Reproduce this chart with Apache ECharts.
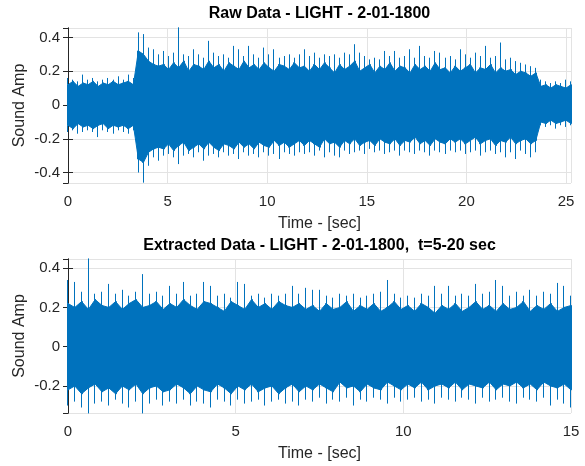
<!DOCTYPE html>
<html>
<head>
<meta charset="utf-8">
<script src="https://cdn.jsdelivr.net/npm/echarts@6/dist/echarts.min.js"></script>
<style>html,body{margin:0;padding:0;background:#fff}#c{width:585px;height:466px}</style>
</head>
<body>
<div id="c"></div>
<script>
// ---- Raw data: 0..25.25 s, envelope read at 101 evenly spaced times ----
const rawSpan = 25.25;
const rawHi = [0.16,0.15,0.14,0.18,0.15,0.16,0.14,0.15,0.16,0.15,0.17,0.15,0.18,0.16,
  0.43,0.42,0.34,0.33,0.30,
  0.32,0.29,0.31,0.46,0.30,0.29,0.33,0.30,0.28,0.38,0.31,0.29,0.30,0.28,0.35,0.33,0.29,0.35,0.30,0.28,0.34,0.30,0.33,0.28,0.29,0.30,0.28,0.30,
  0.33,0.29,0.31,0.28,0.30,0.29,0.30,0.28,0.31,0.30,0.36,0.31,0.29,0.27,0.28,0.27,0.32,0.29,0.32,0.28,0.29,0.33,0.28,0.35,0.29,0.28,0.32,0.31,0.28,0.29,
  0.27,0.33,0.30,0.28,0.31,0.29,0.35,0.28,0.29,0.37,0.27,0.28,0.26,0.25,0.24,0.23,0.22,
  0.15,0.14,0.13,0.14,0.13,0.15,0.14];
const rawCoreHi = [0.12,0.14,0.11,0.13,0.12,0.14,0.11,0.13,0.12,0.14,0.12,0.13,0.14,0.12,
  0.32,0.30,0.26,0.24,0.23,
  0.24,0.21,0.25,0.22,0.26,0.20,0.24,0.23,0.21,0.26,0.22,0.24,0.20,0.25,0.23,0.21,0.26,0.22,0.24,0.21,0.25,0.22,0.20,0.24,0.23,0.21,0.25,0.22,
  0.23,0.20,0.24,0.21,0.25,0.22,0.19,0.24,0.21,0.23,0.26,0.20,0.22,0.24,0.19,0.23,0.21,0.25,0.20,0.23,0.22,0.19,0.24,0.21,0.23,0.20,0.25,0.21,0.22,0.19,
  0.23,0.20,0.22,0.24,0.19,0.22,0.21,0.24,0.19,0.22,0.20,0.21,0.18,0.20,0.19,0.17,0.19,
  0.11,0.12,0.10,0.12,0.11,0.10,0.12];
const rawCoreLo = [-0.12,-0.14,-0.11,-0.13,-0.12,-0.14,-0.12,-0.11,-0.14,-0.12,-0.13,-0.12,-0.14,-0.12,
  -0.32,-0.34,-0.28,-0.26,-0.25,
  -0.26,-0.23,-0.27,-0.24,-0.22,-0.27,-0.25,-0.23,-0.26,-0.22,-0.25,-0.27,-0.23,-0.24,-0.26,-0.22,-0.25,-0.23,-0.26,-0.22,-0.24,-0.25,-0.21,-0.24,-0.22,-0.25,-0.23,-0.21,
  -0.24,-0.21,-0.23,-0.25,-0.20,-0.23,-0.22,-0.25,-0.21,-0.23,-0.20,-0.24,-0.22,-0.21,-0.24,-0.20,-0.22,-0.23,-0.20,-0.24,-0.21,-0.22,-0.19,-0.23,-0.21,-0.24,-0.20,-0.22,-0.23,-0.20,
  -0.22,-0.20,-0.23,-0.21,-0.19,-0.23,-0.21,-0.20,-0.24,-0.21,-0.22,-0.19,-0.23,-0.21,-0.20,-0.23,-0.21,
  -0.10,-0.11,-0.09,-0.11,-0.10,-0.09,-0.11];
const rawLo = [-0.16,-0.15,-0.17,-0.16,-0.15,-0.16,-0.19,-0.15,-0.16,-0.17,-0.15,-0.16,-0.17,-0.15,
  -0.40,-0.46,-0.36,-0.31,-0.33,
  -0.30,-0.29,-0.31,-0.35,-0.30,-0.29,-0.31,-0.28,-0.33,-0.30,-0.29,-0.31,-0.28,-0.30,-0.29,-0.32,-0.28,-0.30,-0.29,-0.31,-0.28,-0.30,-0.29,-0.32,-0.28,-0.29,-0.30,-0.28,
  -0.29,-0.28,-0.30,-0.27,-0.31,-0.28,-0.30,-0.31,-0.27,-0.29,-0.28,-0.27,-0.29,-0.26,-0.28,-0.27,-0.29,-0.28,-0.27,-0.30,-0.27,-0.28,-0.29,-0.27,-0.28,-0.30,-0.27,-0.28,-0.29,-0.27,
  -0.28,-0.27,-0.29,-0.28,-0.27,-0.30,-0.28,-0.27,-0.29,-0.28,-0.31,-0.28,-0.32,-0.27,-0.29,-0.31,-0.28,
  -0.12,-0.13,-0.12,-0.14,-0.12,-0.13,-0.12];

// ---- Extracted data (t = 5-20 s shown as 0..15 s), envelope read at 75 evenly spaced times ----
const extSpan = 15;
const extHi = [0.34,0.33,0.28,0.45,0.27,0.28,0.32,0.27,0.29,0.26,0.28,0.37,0.27,0.28,0.26,0.31,0.27,0.33,0.26,0.27,
  0.33,0.31,0.26,0.27,0.25,0.33,0.32,0.26,0.27,0.25,0.27,0.26,0.27,0.31,0.27,0.30,0.29,0.29,0.26,0.25,
  0.27,0.26,0.27,0.25,0.26,0.27,0.28,0.34,0.27,0.25,0.26,0.25,0.27,0.26,0.31,0.27,0.31,0.26,0.27,0.26,
  0.32,0.27,0.28,0.34,0.31,0.26,0.28,0.26,0.29,0.26,0.28,0.27,0.325,0.31,0.26];
const extCoreHi = [0.22,0.20,0.23,0.19,0.24,0.21,0.20,0.23,0.19,0.22,0.24,0.20,0.21,0.23,0.19,0.22,0.20,0.24,0.21,0.19,
  0.23,0.22,0.20,0.18,0.23,0.21,0.19,0.24,0.20,0.22,0.19,0.23,0.21,0.20,0.22,
  0.19,0.21,0.18,0.22,0.19,0.20,0.23,0.18,0.21,0.19,0.22,0.18,0.20,0.23,0.19,0.21,0.18,0.22,0.20,0.17,
  0.21,0.19,0.22,0.18,0.20,0.23,0.19,0.21,0.18,0.22,0.19,0.20,0.23,0.18,0.21,0.19,0.22,0.18,0.20,0.21];
const extCoreLo = [-0.22,-0.20,-0.24,-0.21,-0.19,-0.23,-0.21,-0.24,-0.20,-0.22,-0.19,-0.24,-0.21,-0.20,-0.23,-0.22,-0.19,-0.21,-0.24,-0.20,
  -0.22,-0.23,-0.19,-0.21,-0.24,-0.20,-0.22,-0.19,-0.23,-0.21,-0.20,-0.24,-0.21,-0.19,-0.23,
  -0.20,-0.22,-0.19,-0.21,-0.23,-0.18,-0.21,-0.20,-0.23,-0.19,-0.21,-0.22,-0.18,-0.20,-0.22,-0.19,-0.21,-0.18,-0.22,-0.20,
  -0.19,-0.21,-0.18,-0.22,-0.19,-0.20,-0.21,-0.18,-0.22,-0.19,-0.20,-0.18,-0.21,-0.19,-0.22,-0.18,-0.20,-0.21,-0.19,-0.22];
const extLo = [-0.30,-0.28,-0.31,-0.34,-0.29,-0.28,-0.30,-0.27,-0.29,-0.31,-0.28,-0.34,-0.29,-0.27,-0.30,-0.28,-0.29,-0.27,-0.30,-0.28,
  -0.29,-0.31,-0.27,-0.28,-0.30,-0.27,-0.29,-0.28,-0.27,-0.30,-0.28,-0.27,-0.29,-0.28,-0.30,
  -0.27,-0.28,-0.26,-0.29,-0.27,-0.28,-0.26,-0.30,-0.27,-0.28,-0.26,-0.27,-0.29,-0.26,-0.28,-0.27,-0.26,-0.28,-0.27,-0.29,
  -0.26,-0.27,-0.28,-0.26,-0.27,-0.29,-0.26,-0.28,-0.27,-0.26,-0.28,-0.29,-0.26,-0.27,-0.28,-0.26,-0.30,-0.27,-0.29,-0.31];

const titles = ['Raw Data - LIGHT - 2-01-1800', 'Extracted Data - LIGHT - 2-01-1800,  t=5-20 sec'];
const xName = 'Time - [sec]';
const yName = 'Sound Amp';

function times(span, n) { return Array.from({length: n}, (_, i) => span * i / (n - 1)); }
function candles(span, hi, cHi, cLo, lo) {
  const t = times(span, hi.length);
  return hi.map((h, i) => [t[i], cLo[i], cHi[i], lo[i], h]);
}
function pairs(span, vals) {
  const t = times(span, vals.length);
  return vals.map((v, i) => [t[i], v]);
}

const BLUE = '#0072BD', INK = '#262626', GRIDC = '#e3e3e3';
const FONT = 'Liberation Sans, Arial, sans-serif';

function xAx(gi, max, main, showMax) {
  return {
    type: 'value', gridIndex: gi, min: 0, max: max, interval: 5,
    position: main ? 'bottom' : 'top',
    name: main ? xName : '', nameLocation: 'middle', nameGap: 33,
    nameTextStyle: {color: INK, fontSize: 16, fontFamily: FONT},
    axisLine: {show: true, lineStyle: {color: INK, width: 1}},
    axisTick: {show: true, inside: true, length: 5, lineStyle: {color: INK}},
    axisLabel: {show: main, color: INK, fontSize: 15, fontFamily: FONT, margin: 11, showMaxLabel: showMax},
    splitLine: {show: main, lineStyle: {color: GRIDC, width: 1}}
  };
}
function yAx(gi, min, max, main) {
  return {
    type: 'value', gridIndex: gi, min: min, max: max, splitNumber: 5,
    position: main ? 'left' : 'right',
    name: main ? yName : '', nameLocation: 'middle', nameGap: 40, nameMoveOverlap: false,
    nameTextStyle: {color: INK, fontSize: 16, fontFamily: FONT},
    axisLine: {show: true, lineStyle: {color: INK, width: 1}},
    axisTick: {show: true, inside: true, length: 5, lineStyle: {color: INK}},
    axisLabel: {show: main, color: INK, fontSize: 15, fontFamily: FONT, margin: 8,
      showMinLabel: false, showMaxLabel: false,
      formatter: v => (Math.abs(v) < 1e-9 ? '0' : String(+v.toFixed(2)))},
    splitLine: {show: main, lineStyle: {color: GRIDC, width: 1}}
  };
}
function band(data, xi, yi, origin) {
  return {
    type: 'line', xAxisIndex: xi, yAxisIndex: yi, data: data, showSymbol: false,
    symbol: 'none', smooth: false, clip: true, silent: true,
    lineStyle: {color: BLUE, width: 1}, areaStyle: {color: BLUE, opacity: 1, origin: origin},
    emphasis: {disabled: true}
  };
}
function wave(data, xi, yi, w) {
  return {
    type: 'candlestick', xAxisIndex: xi, yAxisIndex: yi, data: data,
    encode: {x: 0, y: [1, 2, 3, 4]}, barWidth: w, clip: true,
    itemStyle: {color: BLUE, color0: BLUE, borderColor: BLUE, borderColor0: BLUE, borderWidth: 1},
    emphasis: {disabled: true}, silent: true
  };
}

const chart = echarts.init(document.getElementById('c'), null, {renderer: 'canvas'});
chart.setOption({
  animation: false,
  backgroundColor: '#fff',
  title: [
    {text: titles[0], left: 319.5, top: 6, textAlign: 'center', padding: 0,
      textStyle: {fontSize: 16, fontWeight: 'bold', color: '#000', fontFamily: FONT}},
    {text: titles[1], left: 319.5, top: 238, textAlign: 'center', padding: 0,
      textStyle: {fontSize: 16, fontWeight: 'bold', color: '#000', fontFamily: FONT}}
  ],
  grid: [
    {left: 68, right: 14, top: 28, height: 155, containLabel: false},
    {left: 68, right: 14, top: 259, height: 154, containLabel: false}
  ],
  xAxis: [xAx(0, 25.25, true, false), xAx(0, 25.25, false, false), xAx(1, 15, true, true), xAx(1, 15, false, true)],
  yAxis: [yAx(0, -0.462, 0.456, true), yAx(0, -0.462, 0.456, false),
          yAx(1, -0.338, 0.447, true), yAx(1, -0.338, 0.447, false)],
  series: [
    band(pairs(rawSpan, rawCoreHi), 0, 0, -0.05),
    band(pairs(rawSpan, rawCoreLo), 0, 0, 0.05),
    wave(candles(rawSpan, rawHi, rawCoreHi, rawCoreLo, rawLo), 0, 0, 1.5),
    band(pairs(extSpan, extCoreHi), 2, 2, -0.05),
    band(pairs(extSpan, extCoreLo), 2, 2, 0.05),
    wave(candles(extSpan, extHi, extCoreHi, extCoreLo, extLo), 2, 2, 1.5)
  ]
});
</script>
</body>
</html>
